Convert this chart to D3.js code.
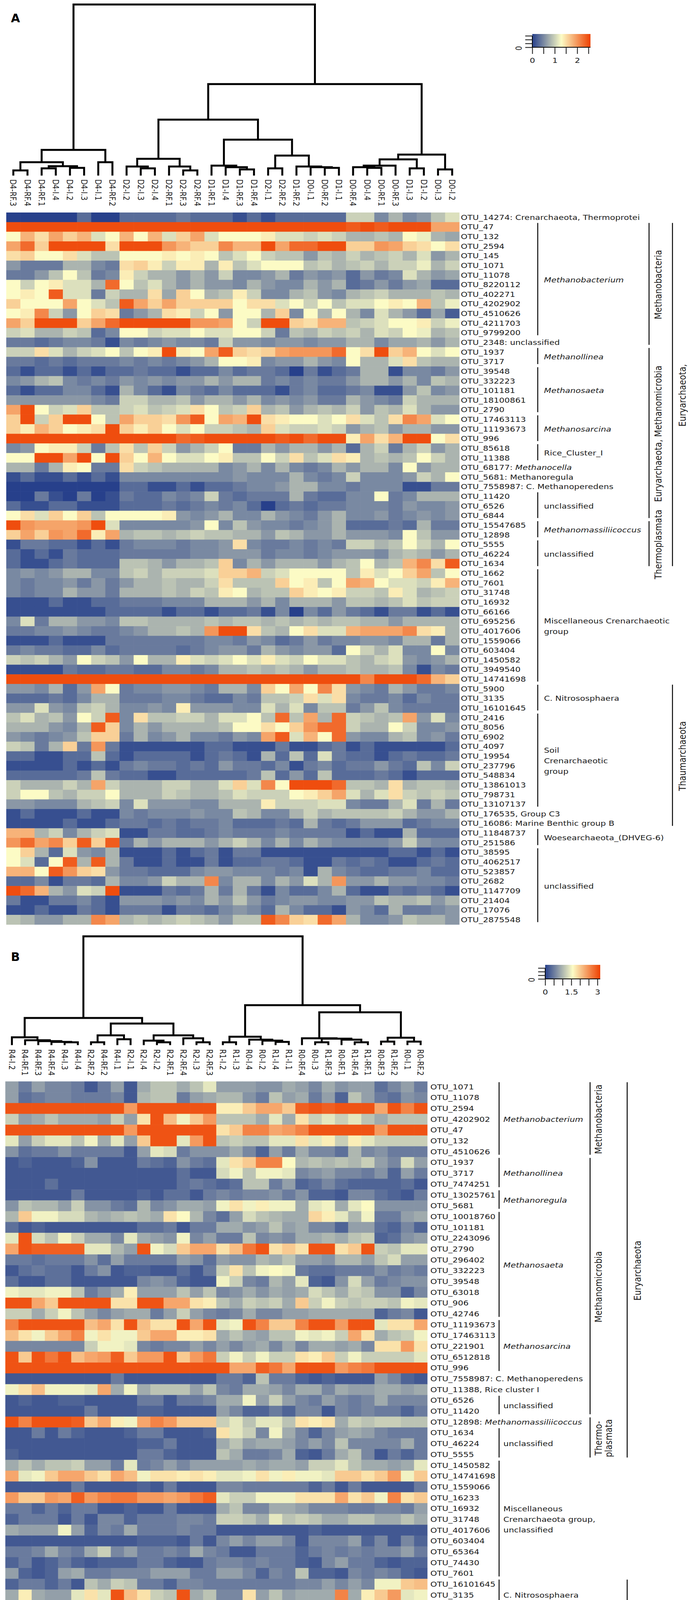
<!DOCTYPE html>
<html>
<head>
<meta charset="utf-8">
<script src="https://cdnjs.cloudflare.com/ajax/libs/d3/7.8.5/d3.min.js"></script>
<style>
  html, body { margin: 0; background: #fff; overflow: hidden; }
  svg { display: block; }
</style>
</head>
<body>
<svg id="fig"></svg>
<script>
const width = 1772;
const height = 4686;
const SX = 1.2;            // the published figure is stretched sideways
const FONT = "DejaVu Sans, Verdana, sans-serif";
const INK = "#1a1a1a";

// ---------------- panel A data ----------------
const colsA = ["D4-RF.3","D4-RF.4","D4-RF.1","D4-I.4","D4-I.2","D4-I.3","D4-I.1","D4-RF.2",
  "D2-I.2","D2-I.3","D2-I.4","D2-RF.1","D2-RF.3","D2-RF.4","D1-RF.1","D1-I.4",
  "D1-RF.3","D1-RF.4","D2-I.1","D2-RF.2","D1-RF.2","D0-I.1","D0-RF.2","D1-I.1",
  "D0-RF.4","D0-I.4","D0-RF.1","D0-RF.3","D1-I.3","D1-I.2","D0-I.3","D0-I.2"];

const rowsA = ["OTU_14274: Crenarchaeota, Thermoprotei","OTU_47","OTU_132","OTU_2594","OTU_145",
  "OTU_1071","OTU_11078","OTU_8220112","OTU_402271","OTU_4202902","OTU_4510626","OTU_4211703",
  "OTU_9799200","OTU_2348: unclassified","OTU_1937","OTU_3717","OTU_39548","OTU_332223",
  "OTU_101181","OTU_18100861","OTU_2790","OTU_17463113","OTU_11193673","OTU_996","OTU_85618",
  "OTU_11388","OTU_68177: *Methanocella*","OTU_5681: Methanoregula","OTU_7558987: C. Methanoperedens",
  "OTU_11420","OTU_6526","OTU_6844","OTU_15547685","OTU_12898","OTU_5555","OTU_46224","OTU_1634",
  "OTU_1662","OTU_7601","OTU_31748","OTU_16932","OTU_66166","OTU_695256","OTU_4017606",
  "OTU_1559066","OTU_603404","OTU_1450582","OTU_3949540","OTU_14741698","OTU_5900","OTU_3135",
  "OTU_16101645","OTU_2416","OTU_8056","OTU_6902","OTU_4097","OTU_19954","OTU_237796",
  "OTU_548834","OTU_13861013","OTU_798731","OTU_13107137","OTU_176535, Group C3",
  "OTU_16086: Marine Benthic group B","OTU_11848737","OTU_251586","OTU_38595","OTU_4062517",
  "OTU_523857","OTU_2682","OTU_1147709","OTU_21404","OTU_17076","OTU_2875548"];

const valuesA = [
  [0,0,0,0,0,.3,0,0,.3,.3,.3,.3,.4,.3,.3,.3,.1,.3,.1,.3,.3,.3,.3,.3,1,1,.5,.8,.5,.6,.9,1.1],
  [2.5,2.5,2.5,2.5,2.5,2.5,2.5,2.5,2.5,2.5,2.5,2.5,2.5,2.5,2.5,2.5,2.5,2.5,2.5,2.5,2.5,2.5,2.5,2.5,2.4,2.5,2.4,2.5,2.5,2.5,1.9,1.9],
  [1.3,1.8,1.5,1.9,1.6,1.8,1.1,1.3,1.8,1.3,1.8,1.1,1.6,1.9,1.1,1.3,1.3,1.3,1.4,1.1,1.1,1,1.1,1,.8,.8,.9,.8,1.3,1.2,.8,.7],
  [1.9,2.3,1.6,2.5,2.5,2.5,2.5,1.5,2.5,2.5,2.5,2,1.8,1.6,1.6,2.1,1.8,1.8,2.5,1.9,2.3,2.3,2.5,2.5,1.6,1.6,2,1.9,1.6,1.5,1.3,1.5],
  [1.5,1.6,1.3,1.3,1.5,1.1,.9,.9,1.3,1.3,1.3,1.4,1.3,1.4,1.3,.9,1.1,1.3,1,.9,.9,.6,.9,.8,1,.8,.9,1,.8,1.1,.6,.8],
  [.6,.4,.4,.4,.8,.8,.5,.4,1.5,1.6,1.4,1,1.4,1.4,.8,1.4,.9,1.1,1.3,1.3,1.3,.9,1,.8,.9,1,.8,1,1,1.2,.8,1],
  [.4,.4,.6,.9,1.3,.9,.4,.5,1.4,1,.8,.8,.6,.8,.6,1,.5,.5,.6,.8,.4,.6,.5,.6,.3,.6,.4,.5,1.1,.8,.6,.7],
  [1.3,1,1.3,1.4,1.1,1.1,.8,2.3,1.3,.9,1.1,.8,.6,.8,.6,.6,.5,.8,.6,.5,.5,.8,.6,.8,.3,.4,.6,.4,.6,.7,.3,.3],
  [1.3,1.4,1.3,2.4,1.1,1.1,.4,1,.8,.8,1.5,.7,1.6,1.3,.8,.9,1.4,1,.5,.5,.8,.9,.6,.5,.8,.9,1,.8,.8,.8,.9,.8],
  [1.6,1.3,1.3,1.3,1.9,1.3,1.1,.9,2.4,1.9,1.6,1.9,1.6,1.6,1.6,1.6,1.3,1.5,1.5,1.1,1.3,1,1.3,.9,1.1,1.1,1.3,1.4,1.3,1.8,.9,1.2],
  [1.3,1.4,2.1,1,.6,1.3,1.6,1.5,.4,.6,.8,1.5,1.4,1,1.3,.6,1.3,1.3,.8,1.6,.5,1.3,.8,1.3,.8,.5,1.1,.8,.6,.3,.7,.2],
  [1.9,1.6,2.5,2.5,2.5,1.6,1.9,2.3,2.5,2.5,2.5,2.5,2.5,2,2,1.9,1.3,1,2.5,2.5,1.6,1.5,1.8,1.8,.9,1,1.1,1.3,1.3,1.4,1,1.2],
  [1,1.1,.8,.8,1,.9,.3,.5,1.3,1.3,1,1.1,1.1,1.3,1.1,1.1,1.3,1.3,1,.4,.9,.8,1,.9,1,.8,1.1,1,1.3,1.2,.8,.9],
  [.4,.4,.3,.4,.5,.5,.4,.1,.5,.4,.5,.6,.5,.5,.4,1,.6,.6,.5,.6,.6,.5,.6,.6,.8,.8,.5,.7,.7,.8,.6,.8],
  [1,1,1.5,1.1,.8,1,1.1,1.3,.9,1.3,1.4,2.5,1.4,1.3,1.9,2.4,1.6,1.5,1.6,1.9,2,2,2,2.3,1.3,1.5,2.5,1.6,1.8,1.3,1.1,1.3],
  [.4,.4,.3,.4,.3,.4,.4,.4,.5,.4,.5,.4,.5,.6,.8,1.3,1.3,1.4,.5,.6,.6,.8,.6,.5,1.3,.8,.8,1.1,1.5,.9,.8,.8],
  [.3,.1,.3,.3,.1,.3,.1,.3,.3,.4,.3,.3,.1,.3,.3,.5,.3,.4,.4,.3,0,.4,.1,.3,.4,.8,.8,.1,.5,.5,.4,.6],
  [.5,.6,.8,.9,.5,.4,.5,.4,.6,.5,.6,.5,.6,.6,.8,.6,.8,.8,.4,.5,.4,.5,.4,.4,.6,.8,.8,.6,.8,.5,.9,.8],
  [.3,.1,.3,.3,.5,.5,.3,.1,.8,.5,.3,.1,.5,.4,.3,.5,.3,.3,.3,.1,.4,.5,.3,.3,.4,.5,.1,.1,.6,.9,.5,.6],
  [.6,.6,.6,.6,.6,.6,.5,.4,1,1,.8,.8,.9,.6,.8,.8,.6,.8,.5,.6,.5,.6,.4,.4,.8,.6,.5,.4,1,.8,.8,.8],
  [1.9,2.5,1.3,1,1.1,1.6,.9,.9,1,1.1,.9,1,1.1,1.5,1.3,.9,1,1.6,.8,.9,.6,.8,.9,.8,1,.6,.9,.8,1.1,.8,.6,.6],
  [1.6,2.5,1,1.6,2.5,2.5,1.3,.9,1.9,1.6,1.6,1.5,2,2.4,1.3,1.9,1.8,2.5,1.5,1.4,1.3,1.3,1.1,1.3,1.5,1.1,.9,1.5,2.1,1.9,1.1,1.3],
  [1.6,1.4,1.8,1.6,1.3,1.4,1.5,2.5,1.6,1.4,1.6,1.3,1.1,1.3,1,1,.9,.8,1.6,1.1,1,1,1.1,1,.6,.8,.9,.6,.8,.8,.6,.6],
  [2.5,2.5,2.5,2.5,2.5,2.5,2.5,2.5,2.5,2.5,2.5,2.5,2.3,2.4,2.5,2.5,2.5,2.5,2.5,2.4,2.5,2.3,2.5,2.5,1.4,1.9,1.5,1.8,2.5,2.5,1.3,1.5],
  [.5,.6,1.3,1.4,1.4,1,.4,.9,1.5,.9,1.6,1,.6,.8,1,1.3,.4,.4,.8,.6,.8,.8,.6,.8,.3,.8,1,.4,.8,1,.6,.8],
  [1.3,1.3,2.5,2.5,1.9,2.5,1.3,2.5,1.6,1.3,1.8,1.3,1.1,1.1,1.3,1.4,.9,.9,1.3,1,1.5,.9,1.1,1.5,1.4,.8,.9,.8,.9,1.3,1,.8],
  [.8,.8,.4,.8,1.4,1.3,.4,.4,1.5,1,.9,.8,.8,.8,.8,.5,.6,.8,.5,.8,.5,.4,.5,.8,.6,.8,.8,.5,1.3,.6,.8,.8],
  [.1,.3,.1,.1,.3,.1,.3,.1,.5,.5,.5,.5,.5,.5,.5,.5,.6,.5,.5,.5,.8,.5,.4,.5,1,.5,.5,.5,.6,1,.8,1.3],
  [0,0,0,0,0,0,0,0,.3,.3,.1,.1,.3,.1,.3,.3,.4,.5,.5,.6,.8,.8,.5,.5,.4,.5,.5,.5,.1,.1,.4,.4],
  [0,0,.4,.1,0,.4,0,.1,.4,.3,.3,.5,.4,.5,1,.4,.3,.4,.4,.4,.8,.4,.3,.3,.5,.5,1.3,.4,.5,.8,.8,.8],
  [.3,.1,.1,.3,.3,.1,.1,.1,.3,.3,.3,.4,.3,.4,.5,.4,.5,.3,0,.3,.4,.3,.4,.4,.5,.5,.5,.4,.6,.5,.5,.6],
  [1.3,1.5,1.1,1.6,1.3,1.6,.9,1.3,1.3,1.3,1.3,1.4,.6,.5,.6,.8,.5,.5,.8,.6,.5,.4,.6,.8,.5,.5,.6,.4,.5,.6,.5,.6],
  [2.5,2,1.9,1.9,1.9,2,2.5,1.1,.5,.5,.5,.5,.5,.6,1.3,.5,.9,.6,.5,.5,.4,.5,.6,.8,.3,.3,.3,.4,.3,.8,.4,.4],
  [1.6,1.9,1.6,2,1.9,2.3,1.4,1.9,.8,.9,.9,.8,.9,1,.9,.9,.8,.8,.6,.9,.8,.6,.6,.8,.6,.6,.6,.5,1.3,.9,.6,.6],
  [.1,.4,.4,.3,.3,.1,.3,.1,.4,.5,.5,.5,.4,.5,.5,.6,1.5,.5,.4,.4,.5,.4,.5,.4,1,1,.8,.9,1.3,1,.8,1.3],
  [.3,.1,.3,.1,.4,.3,.3,.3,.4,.4,.4,.4,.4,.5,.5,.6,.6,.6,.4,.5,.5,.4,.5,.6,.6,.6,.5,.8,.9,.8,.6,.8],
  [.3,.1,.1,.3,.4,.3,.3,.3,.9,.9,.8,.6,.8,.8,.9,1.6,.5,.8,.6,.8,.8,.8,.6,.8,.9,1.3,.8,.9,1.8,2.1,1.5,2.4],
  [.5,.6,.5,.6,.8,.8,.5,.5,.9,1,.8,1,1,1,1.1,1.6,1.6,1.8,1,1.1,1.3,1.3,1.3,1.3,.9,1.4,1.1,1.3,1.6,1.9,.9,1.3],
  [.5,.4,.5,.5,.6,.4,.6,.4,.6,.8,.8,.9,.8,.8,1,1.5,.9,.9,.9,1.6,1.3,1.4,.9,1.3,1.9,1.8,1.3,1.1,1.1,1,1.4,1.8],
  [.5,.4,.5,.5,.8,.6,.6,.4,.8,.8,.8,.9,.8,1,.9,1.4,1.3,.8,.9,.9,1.6,1.4,1.3,1.4,1,1,.9,1.4,1.1,.8,.9,1],
  [.1,.1,.1,.3,.1,.1,.3,.3,.4,.4,.4,.5,.5,.5,.8,.8,.8,.6,.8,.5,.8,.8,.8,.6,.9,.9,.8,.9,1.1,.9,1,1],
  [.1,.1,.1,.1,.1,.1,.1,.3,.3,.3,.3,.1,.3,.3,.1,.3,.3,.4,.1,.5,0,.5,.3,.6,.4,.3,.1,.4,.4,.1,.3,.1],
  [.5,1.1,.4,.8,.8,.6,.6,.5,.9,.9,.8,.8,.8,.8,.9,.8,.9,.9,.8,.9,.8,.9,.8,.9,.9,.8,.8,.6,.8,.8,.8,.8],
  [.4,.4,.5,.5,.6,.5,.4,.4,.5,.6,.8,.8,.9,.8,2,2.5,2.5,1.5,.9,.8,1.3,1.5,1.1,1.1,1.8,1.9,1.9,1.9,2.1,1.5,1.4,.8],
  [.1,.1,.1,.3,.1,.1,.1,.4,.4,.4,.4,.4,.4,.4,.5,.5,.4,.6,.5,.3,.4,.6,.4,.5,.5,.6,.6,.5,.8,.8,.4,.8],
  [.4,.5,.4,.4,.3,.3,.5,.3,.4,.4,.4,.4,.3,.4,.5,.6,.6,.4,.8,.6,.5,.6,.6,.3,1.3,1,.8,1.1,.5,.5,1.3,.5],
  [1,.9,1,.8,.6,1.3,1,.9,.6,1.3,.8,.8,1.4,1.1,1,1.1,1.3,1.1,1.4,1.1,1,1.3,1.1,1.1,.9,.8,1,1.1,.6,.5,.6,.8],
  [.1,.1,.1,.1,.4,.3,.3,.4,.4,.3,.3,.5,.5,.4,.5,.8,.8,.9,.8,.9,.8,.6,.8,.8,.9,.8,.8,.9,.5,.1,.5,.4],
  [2.5,2.5,2.5,2.5,2.5,2.5,2.5,2.5,2.5,2.5,2.5,2.5,2.5,2.5,2.5,2.5,2.5,2.5,2.5,2.5,2.5,2.5,2.5,2.5,2.5,2.1,2.5,2.5,2.5,2.3,1.8,1.6],
  [.6,.6,.5,.8,.3,.6,1.9,1.3,.4,.5,.5,.6,.6,.5,.4,.8,.8,.5,1.6,1.3,1.9,1.3,2.1,1.5,.6,.5,.4,.8,.6,.4,.4,.5],
  [.3,.3,.3,.4,.3,.5,.8,.8,.4,.4,.4,.5,.5,.4,.3,.3,.5,.4,.9,.9,1,1.5,1.1,1.5,.5,.4,.4,.5,.3,.5,.4,.4],
  [.6,.6,1.1,.6,.5,.9,1,.8,.5,.5,.6,.5,1.4,.6,.6,.6,.5,.5,1.1,.8,1.1,.5,.9,.9,.4,.6,.9,.5,.4,.4,.4,.4],
  [.9,1.1,.8,.9,.6,1.3,1,2.4,.5,1.5,.9,.9,1,1,.8,1.1,1.1,1.3,.9,2.3,.9,1.9,.8,2.3,1,.9,.8,.9,1.9,.6,1.1,.5],
  [.8,.8,.8,.6,.5,.8,2.4,1.6,.5,.8,.6,.8,.8,.8,.8,.9,1.3,1.3,1.5,1.3,1.6,2,2.3,2.3,1,.8,.8,1.3,1,.5,.5,.6],
  [.6,.5,.4,.5,.6,.9,1.6,1.6,.4,.8,.5,.6,.8,.5,.5,.4,.6,.5,1.9,2.4,1.1,1.8,1.3,2.3,.6,.5,.5,.8,.9,.5,.6,.4],
  [1,.9,.4,.8,1.6,.4,2,.4,.1,.1,.1,.1,.1,.1,.3,.3,.1,.1,.1,.4,.1,.1,.3,.4,.1,.3,.1,.1,.1,.1,.1,.3],
  [.3,.3,.1,.1,.3,.3,.9,.3,.1,.3,.3,.3,.3,.1,.3,.4,.3,.1,.8,.3,.9,.3,1.1,.4,.3,.3,.1,.3,.4,.3,.3,.4],
  [.1,.1,.1,.1,.3,.1,.3,.1,.4,.5,.4,.4,.3,.4,.3,.6,.4,.4,.3,.5,.1,.4,.5,.3,.4,.4,.6,.4,.3,.9,.5,1],
  [.3,.3,.3,.3,.3,.4,.9,.4,.3,.3,.1,.1,.3,.3,.3,.3,.3,.4,.9,.3,.6,.3,.9,.3,.3,.3,.4,.3,.1,.3,.3,.3],
  [1,.8,.8,.8,1,.8,1.9,1,.8,.8,.8,1,1,.8,.8,1.1,1.6,1.1,2.1,1.3,2.5,2.5,2.5,2.3,.9,.9,.8,1.5,.8,.9,.9,.8],
  [1,1.3,1.3,.9,.8,1,1,1.3,.8,.8,.8,1,.9,.8,.8,.9,1.1,1,1,1,1.3,1.4,1.6,1.9,1.1,.8,1.1,1.5,1,.9,1,.9],
  [.6,.6,.5,.5,.5,.8,.9,1,.5,1.1,.6,.6,.6,.5,.5,.8,.8,.8,1.4,1,1,1,1.1,1.1,.5,.4,.4,.8,1.1,.4,.8,.4],
  [.1,.3,.1,.1,.1,.3,.1,.1,.5,.4,.5,.5,.5,.6,.5,.5,.9,.8,.5,.5,.8,1,.8,.9,.9,.9,.9,1,.8,.6,.6,.8],
  [.1,.1,.1,.1,.3,.1,.1,.3,.4,.4,.3,.4,.3,.4,.4,.5,.3,.3,.3,.4,.3,.8,.4,.3,.4,.6,.6,.6,.3,.4,.5,.5],
  [1.8,1.8,.8,1,.5,.8,1,1.1,.1,.1,.4,.4,.3,.3,.4,.5,.4,.4,.4,.5,.4,.4,.4,.4,.1,.3,.1,.1,.8,.3,.3,.3],
  [2,2.3,1.9,2.1,1.6,2.4,1.6,2.4,.4,.8,.6,.8,.8,.8,.6,.8,1,.8,.5,.8,.5,.8,.6,.5,.5,.5,.5,.6,1,.6,.5,.5],
  [1.3,1.6,.8,.3,1.1,.6,.5,.8,.1,.1,.1,.3,.1,.3,.4,.1,.4,.4,.1,.1,.1,.1,.1,.1,.1,.1,.1,.3,.3,.1,.3,.1],
  [1.3,1.1,.3,1.3,2.4,.8,2.4,.8,.4,.1,.1,.3,.1,.1,.4,.1,.3,.3,.4,.4,.3,.1,.1,.4,.3,.4,.3,.1,.1,.3,.4,.3],
  [1.8,1.8,1.3,2.4,2,1.6,1.5,.6,.4,.4,.3,.3,.3,.5,.6,.6,.5,.5,.5,.4,.5,.1,.8,.5,.4,.3,.3,.4,.4,.5,.3,.3],
  [.3,.3,.5,.1,.4,.4,.3,.8,.5,.5,.6,1,.8,.8,2.1,.5,.8,.8,.5,.8,.6,1.1,.8,2,.6,.6,.8,.6,.6,.5,.5,.4],
  [2.5,2.3,1.8,.8,.6,1.1,1,2.5,.1,.1,.1,.4,.3,.4,.8,.4,.8,.4,.1,.5,.3,.3,.5,.8,.3,.1,.1,.4,.3,.4,.3,.1],
  [.4,.1,.1,.4,.4,.5,.3,.1,.6,.6,.6,.5,.6,.5,.8,.6,.9,.6,.4,.5,.6,.6,.5,.5,.6,.6,.9,.8,.8,.9,.6,.8],
  [.1,.1,.3,.1,.1,.4,.3,.1,.4,.4,.4,.1,.4,.4,.3,.5,.6,.5,.3,.8,.5,.3,.3,.1,.6,.5,.3,.8,.4,.4,.5,.6],
  [.9,.8,.6,.6,.8,.8,2.1,1.9,.8,.9,.8,.9,1,.9,.8,.6,.9,.9,2.4,2.1,1.6,1.5,2.3,1.9,.8,.5,.5,.6,.9,.8,.8,.6]
];

// column tree: [merge height, left, right]; leaves are column indices
const treeA = [100,
  [15, [7.8, [3, 0, 1], [5.5, [4.2, 2, 3], [4.5, 4, 5]]], [7.8, 6, 7]],
  [53.5,
    [32.7,
      [9.8, [5.3, 8, [4.2, 9, 10]], [5.3, 11, [3, 12, 13]]],
      [21, [5.8, 14, [4.9, 15, [3.6, 16, 17]]],
           [11.7, [4.2, 18, 19], [5.3, 20, [4.9, 21, [4.5, 22, 23]]]]]],
    [12.3, [9.5, [5.8, [4.9, 24, [4.5, 25, 26]], 27], [4.2, 28, 29]], [3.6, 30, 31]]]];

const genusA = [
  {name: ["*Methanobacterium*"], from: 1, to: 12},
  {name: ["*Methanollinea*"], from: 14, to: 15},
  {name: ["*Methanosaeta*"], from: 16, to: 20},
  {name: ["*Methanosarcina*"], from: 21, to: 23},
  {name: ["Rice_Cluster_I"], from: 24, to: 25},
  {name: ["unclassified"], from: 29, to: 31},
  {name: ["*Methanomassiliicoccus*"], from: 32, to: 33},
  {name: ["unclassified"], from: 34, to: 36},
  {name: ["Miscellaneous Crenarchaeotic", "group"], from: 37, to: 48},
  {name: ["C. Nitrososphaera"], from: 49, to: 51},
  {name: ["Soil", "Crenarchaeotic", "group"], from: 52, to: 61},
  {name: ["Woesearchaeota_(DHVEG-6)"], from: 64, to: 65},
  {name: ["unclassified"], from: 66, to: 73}
];
const classA = [
  {name: ["Methanobacteria"], from: 1, to: 13},
  {name: ["Euryarchaeota, Methanomicrobia"], from: 14, to: 31},
  {name: ["Thermoplasmata"], from: 32, to: 36}
];
const phylumA = [
  {name: ["Euryarchaeota,"], from: 1, to: 36},
  {name: ["Thaumarchaeota"], from: 49, to: 63}
];
const keyTicksA = [0, 0.5, 1, 1.5, 2, 2.5];
const keyLabelsA = [0, 1, 2];

// ---------------- panel B data ----------------
const colsB = ["R4-I.2","R4-RF.1","R4-RF.3","R4-RF.4","R4-I.3","R4-I.4","R2-RF.2","R4-RF.2",
  "R4-I.1","R2-I.1","R2-I.4","R2-I.2","R2-RF.1","R2-RF.4","R2-I.3","R2-RF.3",
  "R1-I.2","R1-I.3","R0-I.4","R0-I.2","R1-I.4","R1-I.1","R0-RF.4","R0-I.3",
  "R1-RF.3","R0-RF.1","R1-RF.4","R1-RF.1","R0-RF.3","R1-RF.2","R0-I.1","R0-RF.2"];

const rowsB = ["OTU_1071","OTU_11078","OTU_2594","OTU_4202902","OTU_47","OTU_132","OTU_4510626",
  "OTU_1937","OTU_3717","OTU_7474251","OTU_13025761","OTU_5681","OTU_10018760","OTU_101181",
  "OTU_2243096","OTU_2790","OTU_296402","OTU_332223","OTU_39548","OTU_63018","OTU_906",
  "OTU_42746","OTU_11193673","OTU_17463113","OTU_221901","OTU_6512818","OTU_996",
  "OTU_7558987: C. Methanoperedens","OTU_11388, Rice cluster I","OTU_6526","OTU_11420",
  "OTU_12898: *Methanomassiliicoccus*","OTU_1634","OTU_46224","OTU_5555","OTU_1450582",
  "OTU_14741698","OTU_1559066","OTU_16233","OTU_16932","OTU_31748","OTU_4017606","OTU_603404",
  "OTU_65364","OTU_74430","OTU_7601","OTU_16101645","OTU_3135","OTU_5900","OTU_13107137",
  "OTU_13861013","OTU_1546205","OTU_19954","OTU_2416","OTU_4097","OTU_548834","OTU_6902",
  "OTU_798731","OTU_8056","OTU_10712480","OTU_16086","OTU_176535","OTU_4062517","OTU_11848737",
  "OTU_251586","OTU_11803913","OTU_102920","OTU_17076","OTU_38595"];

const valuesB = [
  [.8,.5,.8,.6,.6,.5,.2,.5,.8,.2,.9,1.1,1.1,.9,1.1,1.4,.8,.8,.8,.7,.7,.9,.8,.6,.9,.7,.8,.8,.4,.6,.8,.5],
  [.8,.4,.5,.6,.6,.5,.5,.5,.6,.2,1,1.1,1.1,.5,.8,.9,1,1,.7,.5,1.1,.8,.9,.5,.8,.3,1.1,.8,.5,.4,.7,.6],
  [3,3,3,3,3,3,3,3,3,2.4,3,3,3,3,3,3,1.7,1.7,2,2.3,2.3,2,2.9,3,2.9,3,3,3,2.3,3,2.6,3],
  [1.2,.8,.9,1.1,.9,.9,.9,.8,1.2,.8,1.8,3,2.1,1.5,2,2.4,1.1,1.1,1.1,.9,1.4,.9,1.8,1.2,1.4,1.2,1.4,1.1,.9,1.1,1.1,1.1],
  [3,3,3,3,3,3,3,3,3,2.4,3,3,3,3,3,3,1.8,2,2.6,2.6,2.3,2.4,2.6,3,3,3,3,3,2.4,3,3,3],
  [1.4,.8,1.2,1.4,1.4,1.1,1.5,.9,1.4,.8,2,3,3,1.4,2.4,3,1.1,1.2,1.1,1.1,1.4,1.4,1.8,1.4,1.7,1.2,1.7,1.4,1.2,1.2,1.2,1.2],
  [.7,.4,.5,.5,.7,.5,.5,.5,.5,.2,.8,1.4,1.3,.5,.7,.7,.7,.9,.6,.3,.8,.5,.9,.6,.6,.4,1,.6,.7,.5,.5,.5],
  [.2,.3,.2,.2,.2,.3,.7,.2,.2,.2,.5,.4,.3,.7,.5,.4,1.4,1.8,2,2.6,2.6,1.6,1,1.1,1,1.1,1,1.2,.8,.6,1.3,.8],
  [.2,.2,.2,.2,.2,.2,.2,.2,.2,.2,.2,.2,.2,.4,.2,.2,1.3,1.5,1.1,1.5,1.5,1.4,.6,.7,.8,.6,.6,.5,.7,.3,.8,.5],
  [.2,.2,.2,.4,.2,.2,.2,.2,.2,.2,.2,.2,.2,.4,.5,.4,.3,.4,1.1,1.1,.5,.8,.3,.4,.6,.4,.3,.3,.3,.3,.4,.2],
  [.2,.2,.2,.2,.2,.5,.2,.2,.2,.2,.3,.2,.4,.4,.2,.5,.6,.5,.6,.6,.7,.5,.7,.3,.3,.2,.6,.6,.4,.3,.2,.5],
  [.7,1.1,1,1,.8,1.2,.7,.7,.5,.4,1,.6,.7,.9,.9,.8,1.5,1.8,1.5,1.7,1.5,1.5,.9,1.4,1.5,.9,1.4,1.6,.7,.7,.7,.7],
  [1,2,1.5,1.5,1.3,1.3,1,.9,1,1.1,1,.9,1.8,1.6,1,.6,.4,.8,1.3,1.1,1,.9,.9,1.9,1.7,1.4,1,1.5,.5,.5,.8,.9],
  [.4,.2,.3,.2,.2,.2,.2,.2,.2,.2,.4,.4,.5,.2,.5,.5,.9,.9,.7,.8,1.1,.8,.9,.6,.6,.3,.8,.8,.4,.3,.6,.3],
  [1.4,3,1.3,1.1,1.5,1.2,.9,.9,.6,1.4,.9,.8,.7,1.5,.6,.8,.5,.5,1.1,.6,.7,.6,.9,.9,1,.9,1.1,1.2,.3,.4,.7,.8],
  [2.3,3,2.9,2.9,2.9,2.9,1.4,1.4,1,.8,3,1.5,1.3,2,2.3,2.3,1.8,2.1,2.7,3,1.8,2,1.8,3,3,1.8,2,3,1.2,1.1,1.4,1.4],
  [.5,.5,.4,.5,.5,.5,.7,.4,.8,.5,.5,.5,.5,.8,.7,.4,.8,.7,.7,1,.9,1.1,.8,.8,.7,1,1,.8,1.1,1.3,.8,.8],
  [.2,.4,.5,.4,.4,.2,.5,.7,.2,.3,.3,.2,.2,.4,.2,.5,1.2,1.8,1.1,1.5,1.6,1.5,.5,.4,.4,.5,.5,.5,.7,.5,.6,.5],
  [.4,.2,.2,.4,.4,.2,.2,.2,.2,.2,.6,.7,.6,.3,.2,.2,1.5,1.2,.6,.5,1,.8,1.4,.3,.2,.7,1.3,.8,.5,.6,.7,.7],
  [1.5,1.4,1.4,1.5,1.5,1.1,.5,.7,.9,1.7,.8,.8,.8,1.1,.8,1.1,.6,.7,.9,.7,.9,.8,.9,1.3,1.1,.9,1.2,1.1,.7,.7,.3,.6],
  [3,3,2.3,2,3,3,3,3,1.8,1.8,3,3,2.3,2.3,1.8,1.7,1.1,.9,1.2,1.1,1.2,.9,2,1.2,1.5,1.2,1.1,1.2,1.2,1.1,1.5,1.4],
  [1.2,1.2,.9,1.2,1.5,1.1,.8,.6,.8,.9,.9,.5,.8,1.2,.8,.6,.5,.6,.9,.6,.6,.8,.8,.9,.9,.9,.9,.9,.3,.5,.6,.2],
  [2.6,3,3,3,3,3,2.1,2.3,1.8,3,2.1,1.8,1.8,3,2.3,3,1.4,1.5,3,2.6,2,2,2.6,3,3,2.4,3,3,1.4,1.8,1.8,2.3],
  [2.1,1.8,1.5,2,2.3,2.6,1.5,1.8,1.5,1.5,2,2.3,2.3,1.7,1.7,1.8,.9,1.1,.9,.8,1.1,1.1,1.5,1.4,1.5,1.2,2.3,1.8,.9,1.1,1.2,1.5],
  [.6,.6,.6,.6,.6,.6,1.2,1.5,1.5,1.4,.6,.5,.6,.6,.8,.6,.8,.6,.8,.9,.6,.9,.6,.9,.9,.8,.9,.6,1.8,1.8,2.4,1.8],
  [3,2,3,2.7,3,2.1,2.3,2.4,2.9,2,2.4,2.4,3,2,2.4,2.7,1.2,1.5,1.2,1.5,1.2,1.2,1.8,1.7,2,1.2,1.5,1.2,1.2,1.2,1.2,1.4],
  [3,3,3,3,3,3,3,3,3,3,3,3,3,3,3,3,3,2.3,2.3,2.9,2.7,2.3,3,3,3,2.4,2.6,2.7,3,3,3,3],
  [.2,.2,.2,.2,.2,.2,.2,.2,.5,.2,.2,.2,.2,.2,.2,.2,.5,.5,.3,1.1,.5,.5,.3,.2,.3,.2,.2,.2,.8,.6,.3,.2],
  [1.5,1.8,2.1,1.5,1.5,1.5,1.4,2.3,.9,1.5,.9,1.1,1.1,1.1,.8,1.1,.6,.5,.9,.9,.8,.6,.9,.9,.6,.9,.8,.8,.9,.9,.8,.9],
  [.2,.3,.2,.2,.3,.3,.2,.2,.2,.2,.5,.5,.2,.5,.5,.6,.9,.9,1.5,.8,1.2,.8,.6,.5,.8,.6,.5,.6,.9,.6,.6,.6],
  [.2,.2,.2,.2,.2,.2,.5,.2,.2,.2,.3,.3,.2,.2,.2,.2,.8,.6,.3,.3,.5,.3,.6,.6,.2,.6,.5,.6,.5,.5,.3,.5],
  [3,2.6,3,3,3,2.9,2,2.3,1.7,1.5,2.3,2.6,2.4,2,2,2,1.2,1.4,1.1,1.4,1.4,1.1,1.8,1.7,1.8,.9,1.2,1.1,1.2,1.2,1.1,1.1],
  [.2,.2,.5,.2,.5,.3,.2,.2,.2,.3,.5,.5,.2,.2,.2,.3,1.8,1.4,1.2,.6,1.5,.9,.6,.3,.6,.8,.9,.8,.6,.5,.5,.5],
  [.2,.2,.2,.2,.2,.2,.2,.2,.2,.2,.3,.3,.5,.2,.2,.2,.9,1.1,.8,.9,.9,.8,.6,.8,.6,1.1,.6,.6,.6,.6,.9,.5],
  [.3,.2,.2,.2,.2,.2,.2,.2,.2,.2,.5,.5,.3,.2,.2,.2,1.1,.9,.5,.5,.6,.9,.3,.2,.5,.9,1.1,.6,.2,.5,.3,.5],
  [.9,1.1,.9,1.1,1.1,1.2,.8,.8,.5,1.4,.5,.6,.8,.6,.8,.8,.8,.8,.9,.8,.9,.9,.8,1.2,1.2,1.4,1.1,.9,.9,.8,.9,1.4],
  [2.3,1.4,1.5,2,2.3,2.3,2,1.8,2.3,2.1,1.5,1.8,1.8,1.7,1.8,1.7,1.4,1.4,1.5,1.8,1.5,1.7,1.5,1.5,1.4,2,2,1.8,2,2.4,1.5,2],
  [.2,.2,.2,.2,.2,.5,.2,.2,.2,.2,.3,.2,.5,.2,.2,.2,.6,.6,.5,.5,.5,.5,.5,.3,.5,.2,.5,.2,.2,.2,.2,.5],
  [2.4,2,2,2.4,2.3,2.9,2.4,2.6,2.7,2.7,2.4,2.4,2.3,2.4,2.7,2.9,1.4,1.2,1.2,1.5,1.5,1.5,1.8,1.8,1.8,2.3,1.8,2,1.5,2.6,1.8,2],
  [.5,.5,.3,.5,.3,.5,.5,.2,.2,.3,.2,.2,.5,.2,.2,.2,.9,1.1,.6,.6,.9,.9,.8,.6,.6,.6,.5,.5,.6,.6,.5,.8],
  [.3,.5,.5,.5,.2,.5,.2,.6,.6,.3,.5,.5,.5,.6,.6,.5,1.2,1.2,1.1,.9,1.4,1.1,1.2,1.1,.9,.9,1.1,1.1,.9,.9,1.1,.9],
  [.9,.8,.8,.8,1.5,.8,.3,.6,.5,.9,.5,.5,.5,.6,.5,.5,.2,.2,.2,.2,.2,.2,.2,.3,.2,.2,.2,.2,.2,.2,.2,.2],
  [.2,.2,.2,.2,.2,.2,.2,.2,.2,.2,.3,.3,.3,.2,.5,.2,.6,.8,.6,.8,.8,.6,.2,.6,.6,.6,.8,.3,.6,.2,.6,.3],
  [.5,.5,.6,.9,.6,.5,.9,1.2,.6,.8,.5,.5,.6,.5,.9,.6,.5,.2,.2,.5,.5,.5,.3,.5,.6,.5,.6,.5,.6,.6,.8,.5],
  [.3,.5,.2,.3,.5,.3,.2,.3,.3,.3,.5,.5,.3,.2,.2,.5,.6,.6,.5,.6,.5,.5,.3,.2,.6,.8,.5,.5,.3,.2,.3,.3],
  [.8,.3,.2,.3,.8,.9,.5,.5,.6,.6,.6,.8,.8,.8,.5,.5,.8,.8,.6,.3,.6,.5,1.1,.3,.3,.2,.6,.5,.6,.5,.3,.2],
  [.3,.5,.5,.3,.5,.2,1.1,.9,1.2,1.1,.5,.5,.3,.6,.6,.5,.5,.5,.5,.5,.5,.5,.6,.6,.8,.6,.8,.6,1.5,1.5,2,2.1],
  [.9,1.7,.9,.8,.8,1.4,1.8,1.4,3,2.1,1.8,1.2,1.1,3,.9,1.1,.6,.6,1.8,.8,1.1,.8,.9,.9,.9,2.6,.9,1.7,2,2.4,1.4,1.5],
  [1.1,.9,1.1,.9,.9,1.1,2,1.5,3,3,.9,1.2,.9,1.5,1.7,1.2,1.5,1.1,1.2,2,1.5,1.5,2,2.4,1.5,2.1,1.7,1.8,3,3,3,3],
  [.5,.2,.5,.5,.5,.2,1.5,.8,1.1,.6,.3,.5,.3,.5,.5,.2,.6,.5,.5,.6,.5,.2,.5,.6,.6,.8,.6,.8,.9,.9,1.5,1.1],
  [.5,.6,.5,.5,.5,.5,1.2,1.2,1.8,1.4,.5,.5,.5,.6,.8,.6,.6,.5,.8,.6,.6,.5,.6,.6,.6,.9,.6,.8,2,2.4,1.5,1.8],
  [.2,.2,.2,.2,.3,.2,.5,.2,.9,.6,.3,.3,.3,.2,.5,.5,.2,.3,.2,.2,.3,.5,.2,.3,.2,.2,.3,.2,.6,.6,.3,.3],
  [.5,.5,.5,.5,.2,.3,.2,.5,1.5,1.5,.5,.3,.5,.3,.5,.3,.5,.5,.3,.5,.2,.5,.5,.5,.5,.5,.3,.5,1.1,1.1,.5,.5],
  [.5,.6,.8,.8,1.2,.8,2.3,2,1.5,.9,.9,.6,1.8,.9,.9,1.1,.6,.8,.9,.8,.9,.6,.9,.9,1.1,.8,1.5,.9,1.1,1.1,1.8,2],
  [.5,.9,.9,.9,.9,.6,1.7,1.4,2.1,1.7,.9,.9,2.3,1.8,1.4,.9,.9,1.1,1.2,.9,1.1,.9,1.2,1.7,1.2,2.1,1.2,1.5,2,2.3,1.5,1.5],
  [.5,.2,.5,.3,.5,.3,.3,.5,1.1,.8,.3,.3,.2,.5,.5,.6,.5,.2,.6,.5,.5,.3,.5,.3,.5,.5,.5,.2,1.4,1.7,.5,.6],
  [.5,.2,.5,.6,.5,.8,1.2,.9,1.8,1.1,.6,.5,1.1,.5,.8,.6,.8,.5,.5,.5,.3,.5,.6,.6,.6,.8,.6,.6,1.2,1.5,.9,.9],
  [.8,.6,.9,1.1,1.1,.8,3,3,3,3,.9,1.1,1.1,1.5,2,1.5,.8,.9,.6,.9,.9,1.1,.9,1.4,1.1,1.2,.9,.9,2.9,3,3,3],
  [2.1,.8,1.8,1.5,1.8,1.5,.9,.9,1.2,.9,1.5,2.1,1.7,1.1,1.2,1.2,.8,.8,.6,.8,.8,1.2,.8,.8,.8,.8,.6,.6,.6,.6,.8,.6],
  [.2,.2,.2,.2,.2,.2,.2,.5,.2,.2,.2,.2,.2,.2,.2,.2,.5,.5,.2,.9,.5,.6,.2,.5,.2,.2,.2,.2,.6,.3,.6,.5],
  [.2,.3,.2,.2,.3,.2,.2,.2,.2,.2,.3,.3,.5,.2,.5,.5,.9,.9,1.7,.8,.9,.6,.6,.6,.5,.9,.6,.5,.5,.2,.8,.5],
  [.2,.2,.2,.3,.2,.2,.2,.6,.2,.5,.5,.3,.5,.5,.5,.3,.6,.6,.8,.6,.8,.9,.6,.5,.6,.6,.8,.5,.8,.6,.8,.6],
  [.9,.3,.8,.8,.6,.8,.6,.8,.5,1.4,.3,.2,.2,.6,.8,.6,.6,.6,.5,.8,.6,.8,.6,.8,.9,.6,.8,.6,.8,.5,.9,1.1],
  [.2,.6,.8,.8,.8,.5,.2,.9,.5,.6,.2,.2,.2,.2,.5,.2,.6,.6,.8,.6,.9,.8,.8,.9,.9,.9,.8,.8,.8,.9,.9,1.1],
  [.8,.9,.9,1.1,.9,.9,.9,1.4,.8,.9,.8,.6,.6,1.1,.9,.9,.9,.9,.9,.9,.9,1.1,.9,1.1,1.1,.9,.9,.9,.9,1.4,.9,1.2],
  [.6,1.1,.9,.9,.8,1.1,1.1,1.2,1.5,1.1,.6,.8,.6,1.5,.9,.9,.9,.9,.9,1.1,.9,1.2,.9,1.1,1.1,1.2,1.1,1.1,1.2,1.2,.9,1.4],
  [.2,.2,.2,.2,.2,.2,.2,.2,.2,.2,.2,.2,.2,.2,.2,.2,.5,.5,.3,.6,.6,.5,.2,.3,.2,.2,.2,.2,.3,.2,.2,.2],
  [.2,.2,.2,.2,.2,.2,.2,.2,.2,.2,.2,.2,.2,.2,.2,.2,.5,.6,.8,.5,.5,.5,.2,.2,.2,.3,.2,.5,.6,.5,.6,.2],
  [.5,.6,.6,.8,.8,1.1,.6,.5,.3,.6,.2,.3,.2,.5,.2,.6,.8,.8,.6,.9,.8,.9,.8,.9,1.1,.9,.9,.9,.6,.9,.8,1.1]
];

const treeB = [100,
  [25,
    [7.2, 0, [4.5, 1, [3.7, 2, [3, 3, [2.6, 4, 5]]]]],
    [19.8,
      [9, [2.6, 6, 7], [5.4, 8, 9]],
      [9, [4.1, 10, [2.6, 11, 12]], [6.3, 13, [2.6, 14, 15]]]]],
  [36.7,
    [7.7, [2.6, 16, 17], [5, 18, [4.1, 19, [3, 20, 21]]]],
    [30.2,
      [6.3, 22, [5.9, [2.6, 23, 24], [5, 25, [2.6, 26, 27]]]],
      [6.8, [3.2, 28, 29], [3.2, 30, 31]]]]];

const genusB = [
  {name: ["*Methanobacterium*"], from: 0, to: 6},
  {name: ["*Methanollinea*"], from: 7, to: 9},
  {name: ["*Methanoregula*"], from: 10, to: 11},
  {name: ["*Methanosaeta*"], from: 12, to: 21},
  {name: ["*Methanosarcina*"], from: 22, to: 26},
  {name: ["unclassified"], from: 29, to: 30},
  {name: ["unclassified"], from: 32, to: 34},
  {name: ["Miscellaneous", "Crenarchaeota group,", "unclassified"], from: 35, to: 45},
  {name: ["C. Nitrososphaera"], from: 46, to: 48},
  {name: ["unclassified"], from: 49, to: 61},
  {name: ["Woesearchaeota (DHVEG-6),", "unclassified"], from: 62, to: 65},
  {name: ["unclassified"], from: 66, to: 68}
];
const classB = [
  {name: ["Methanobacteria"], from: 0, to: 6},
  {name: ["Methanomicrobia"], from: 7, to: 30},
  {name: ["Thermo-", "plasmata"], from: 31, to: 34}
];
const phylumB = [
  {name: ["Euryarchaeota"], from: 0, to: 34},
  {name: ["Thaumarchaeota"], from: 46, to: 61}
];
const keyTicksB = [0, 0.5, 1, 1.5, 2, 2.5, 3];
const keyLabelsB = [0, 1.5, 3];

// ---------------- layout ----------------
const layoutA = {
  letter: "A", letterX: 28, letterY: 57,
  x0: 16, x1: 1176, y0: 544, rowH: 24.63,
  topY: 11.5, leafY: 449.5, colLabelY: 459,
  rowLabelX: 1180,
  genusX: 1377, genusTextX: 1393,
  classX: 1662, classTextX: 1685,
  phylumX: 1722, phylumTextX: 1747,
  key: {x0: 1363, x1: 1512, y0: 87, y1: 121, max: 2.59, step: 9.8,
        ticks: keyTicksA, labels: keyLabelsA}
};
const layoutB = {
  letter: "B", letterX: 28, letterY: 2460,
  x0: 13.6, x1: 1094, y0: 2768.4, rowH: 27.68,
  topY: 2397, leafY: 2675.5, colLabelY: 2686,
  rowLabelX: 1102,
  genusX: 1278, genusTextX: 1289,
  classX: 1511, classTextX: 1532,
  phylumX: 1606, phylumTextX: 1632,
  key: {x0: 1396, x1: 1537, y0: 2470, y1: 2506, max: 3.16, step: 9.3,
        ticks: keyTicksB, labels: keyLabelsB}
};

const svg = d3.select("#fig")
  .attr("width", width)
  .attr("height", height)
  .attr("font-family", FONT);

svg.append("rect").attr("width", width).attr("height", height).attr("fill", "#fff");

// text with optional *italic* pieces, several lines, stretched sideways
function addText(g, x, y, lines, opt) {
  const size = opt.size || 18;
  const lh = opt.lineH || size * 1.5;
  const rot = opt.rotate ? ` rotate(${opt.rotate})` : "";
  const t = g.append("text")
    .attr("transform", `translate(${x},${y}) scale(${SX},1)${rot}`)
    .attr("font-size", size)
    .attr("fill", INK)
    .attr("text-anchor", opt.anchor || "start");
  const shift = opt.firstAtBase ? 0 : -(lines.length - 1) / 2 * lh;
  lines.forEach((line, i) => {
    const parts = line.split("*");
    parts.forEach((p, j) => {
      if (!p) return;
      const s = t.append("tspan").text(p);
      if (j % 2 === 1) s.attr("font-style", "italic");
      if (j === 0 || (j === 1 && !parts[0])) {
        s.attr("x", 0).attr("y", shift + i * lh + size * 0.36);
      }
    });
  });
  return t;
}

function drawPanel(L, cols, rows, values, tree, genus, classes, phyla) {
  const g = svg.append("g");

  const x = d3.scaleBand().domain(d3.range(cols.length)).range([L.x0, L.x1]);
  const y = d3.scaleBand().domain(d3.range(rows.length))
    .range([L.y0, L.y0 + rows.length * L.rowH]);
  const color = d3.scaleLinear()
    .domain([0, L.key.max / 2, L.key.max])
    .range(["#27408B", "#FCFCC6", "#EE4000"])
    .clamp(true);

  // heatmap cells
  const cells = [];
  values.forEach((row, r) => row.forEach((v, c) => cells.push({r, c, v})));
  g.append("g").selectAll("rect").data(cells).join("rect")
    .attr("x", d => x(d.c))
    .attr("y", d => y(d.r))
    .attr("width", x.bandwidth() + 0.6)
    .attr("height", y.bandwidth() + 0.6)
    .attr("fill", d => color(d.v));

  // column dendrogram
  const hy = d3.scaleLinear().domain([0, 100]).range([L.leafY, L.topY]);
  const links = [];
  (function walk(node) {
    if (typeof node === "number") return {x: x(node) + x.bandwidth() / 2, h: 0};
    const a = walk(node[1]), b = walk(node[2]);
    links.push({a, b, h: node[0]});
    return {x: (a.x + b.x) / 2, h: node[0]};
  })(tree);
  g.append("g").selectAll("path").data(links).join("path")
    .attr("d", d => `M${d.a.x},${hy(d.a.h)}V${hy(d.h)}H${d.b.x}V${hy(d.b.h)}`)
    .attr("fill", "none")
    .attr("stroke", "#000")
    .attr("stroke-width", 5)
    .attr("stroke-linejoin", "miter");

  // column labels
  const cg = g.append("g");
  cols.forEach((c, i) => addText(cg, x(i) + x.bandwidth() / 2, L.colLabelY, [c], {rotate: 90}));

  // row labels
  const rg = g.append("g");
  rows.forEach((r, i) => addText(rg, L.rowLabelX, y(i) + y.bandwidth() / 2, [r], {}));

  // taxonomy brackets
  const bg = g.append("g");
  function bracket(list, lx, tx, opt) {
    list.forEach(d => {
      const top = y(d.from) + 2, bot = y(d.to) + y.bandwidth() - 6;
      bg.append("line")
        .attr("x1", lx).attr("x2", lx).attr("y1", top).attr("y2", bot)
        .attr("stroke", "#000").attr("stroke-width", 2.4);
      const mid = (y(d.from) + y(d.to) + y.bandwidth()) / 2;
      addText(bg, tx, mid, d.name, opt);
    });
  }
  bracket(genus, L.genusX, L.genusTextX, {lineH: 27});
  bracket(classes, L.classX, L.classTextX, {size: 21, rotate: -90, anchor: "middle", lineH: 22, firstAtBase: true});
  bracket(phyla, L.phylumX, L.phylumTextX, {size: 21, rotate: -90, anchor: "middle"});

  // colour key
  const K = L.key;
  const kx = d3.scaleLinear().domain([0, K.max]).range([K.x0, K.x1]);
  const gradId = "grad" + L.letter;
  const grad = svg.append("defs").append("linearGradient").attr("id", gradId);
  d3.range(0, 1.0001, 0.05).forEach(t => grad.append("stop")
    .attr("offset", t).attr("stop-color", color(t * K.max)));
  g.append("rect")
    .attr("x", K.x0).attr("y", K.y0)
    .attr("width", K.x1 - K.x0).attr("height", K.y1 - K.y0)
    .attr("fill", `url(#${gradId})`);

  const bottomAxis = g.append("g")
    .attr("transform", `translate(0,${K.y1})`)
    .call(d3.axisBottom(kx).tickValues(K.ticks).tickSize(17)
      .tickFormat(d => K.labels.includes(d) ? d : ""));
  bottomAxis.select(".domain").attr("stroke-width", 2).attr("d", `M${K.x0},0H${K.x1}`);
  bottomAxis.selectAll(".tick line").attr("stroke-width", 2.2).attr("stroke", "#222");
  bottomAxis.selectAll(".tick text")
    .attr("font-size", 18).attr("font-family", FONT).attr("fill", INK)
    .attr("y", 27).attr("transform", `scale(${SX},1)`);

  const ky = d3.scaleLinear().domain([0, 3]).range([K.y1, K.y1 - 3 * K.step]);
  const leftAxis = g.append("g")
    .attr("transform", `translate(${K.x0},0)`)
    .call(d3.axisLeft(ky).tickValues([0, 1, 2, 3]).tickSize(18)
      .tickFormat(d => d === 0 ? "0" : ""));
  leftAxis.select(".domain").attr("stroke-width", 2).attr("d", `M0,${ky(3)}V${ky(0)}`);
  leftAxis.selectAll(".tick line").attr("stroke-width", 2.2).attr("stroke", "#222");
  leftAxis.selectAll(".tick text")
    .attr("font-size", 18).attr("font-family", FONT).attr("fill", INK)
    .attr("x", 0).attr("dy", 0)
    .attr("text-anchor", "middle")
    .attr("dominant-baseline", "central")
    .attr("transform", `translate(-36,2) scale(${SX},1) rotate(90)`);

  // panel letter
  g.append("text")
    .attr("x", L.letterX).attr("y", L.letterY)
    .attr("font-size", 30).attr("font-weight", "bold")
    .attr("fill", "#000")
    .text(L.letter);
}

drawPanel(layoutA, colsA, rowsA, valuesA, treeA, genusA, classA, phylumA);
drawPanel(layoutB, colsB, rowsB, valuesB, treeB, genusB, classB, phylumB);
</script>
</body>
</html>
